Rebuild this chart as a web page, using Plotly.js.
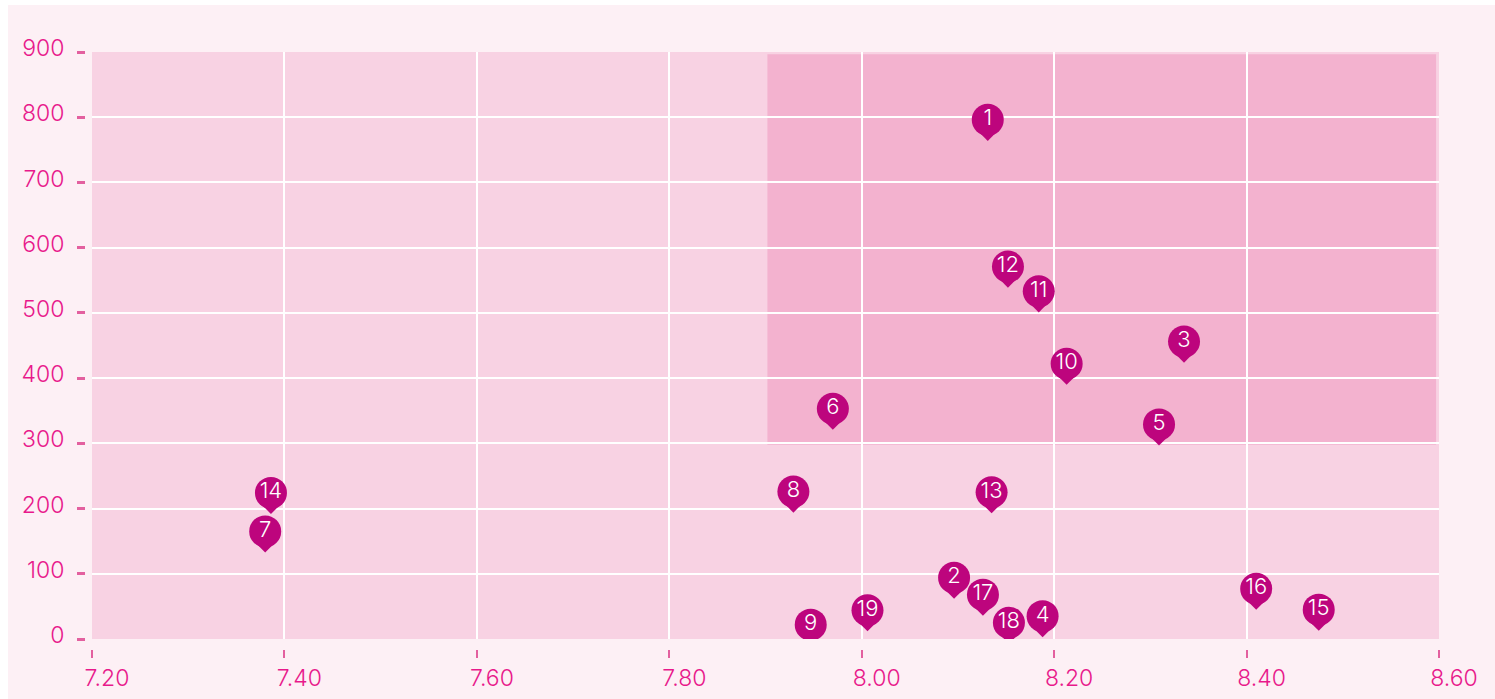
<!DOCTYPE html>
<html>
<head>
<meta charset="utf-8">
<script src="https://cdn.plot.ly/plotly-3.0.1.min.js"></script>
<style>
  html, body { margin: 0; padding: 0; background: #ffffff; overflow: hidden; }
  #chart { position: absolute; left: 8px; top: 5px; width: 1487px; height: 694px; }
</style>
</head>
<body>
<div id="chart"></div>
<script>
// ---- data ----
const pointLabels = ['1','2','3','4','5','6','7','8','9','10','11','12','13','14','15','16','17','18','19'];
const xValues = [8.131, 8.096, 8.335, 8.188, 8.309, 7.970, 7.380, 7.929, 7.947, 8.213,
                 8.184, 8.152, 8.135, 7.386, 8.475, 8.410, 8.126, 8.153, 8.006];
const yValues = [796, 94, 456, 35, 329, 353, 165, 226, 22, 422,
                 533, 571, 225, 224, 45, 77, 68, 25, 44];
const xTickVals = [7.2, 7.4, 7.6, 7.8, 8.0, 8.2, 8.4, 8.6];
const xTickText = ['7.20', '7.40', '7.60', '7.80', '8.00', '8.20', '8.40', '8.60'];
const yTickVals = [0, 100, 200, 300, 400, 500, 600, 700, 800, 900];
const highlightX = [7.902, 8.597];
const highlightY = [298, 896.5];

// ---- style ----
const pinColor = '#bd057d';
const tickColor = '#e8198b';
const fontFamily = 'Inter, "Noto Sans", sans-serif';

const tail = {
  type: 'scatter', mode: 'markers',
  x: xValues, y: yValues,
  hoverinfo: 'skip',
  marker: { symbol: 'diamond', size: 17, color: pinColor, standoff: 10, line: { width: 0 } },
  showlegend: false
};
const head = {
  type: 'scatter', mode: 'markers+text',
  x: xValues, y: yValues, text: pointLabels,
  textposition: 'middle center',
  textfont: { family: fontFamily, size: 22, color: '#ffffff', weight: 300 },
  marker: { symbol: 'circle', size: 32, color: pinColor, line: { width: 0 } },
  showlegend: false
};

const W = 1487, H = 694;
const mL = 77, mR = 56, mT = 47, mB = 50;
const paperW = W - mL - mR, paperH = H - mT - mB;

const layout = {
  width: W, height: H,
  margin: { l: mL, r: mR, t: mT, b: mB, pad: 0 },
  paper_bgcolor: '#fdf0f5',
  plot_bgcolor: '#f8d2e3',
  font: { family: fontFamily, color: tickColor, weight: 300 },
  xaxis: {
    domain: [7 / paperW, 1],
    range: [7.2, 8.6],
    anchor: 'free', position: 0,
    tickmode: 'array', tickvals: xTickVals, ticktext: xTickText,
    ticks: 'outside', ticklen: 8, tickwidth: 2, tickcolor: '#e3609f',
    tickfont: { family: fontFamily, size: 23, color: tickColor, weight: 300 },
    ticklabelshift: 15,
    ticklabelstandoff: 0,
    showgrid: true, gridcolor: '#ffffff', gridwidth: 2,
    zeroline: false, showline: false, fixedrange: true
  },
  yaxis: {
    domain: [10 / paperH, 1],
    range: [0, 900],
    anchor: 'free', position: 0,
    tickmode: 'array', tickvals: yTickVals,
    ticks: 'outside', ticklen: 8, tickwidth: 3, tickcolor: '#e3609f',
    tickfont: { family: fontFamily, size: 23, color: tickColor, weight: 300 },
    ticklabelshift: -4,
    ticklabelstandoff: 8,
    showgrid: true, gridcolor: '#ffffff', gridwidth: 2,
    zeroline: false, showline: false, fixedrange: true
  },
  shapes: [{
    type: 'rect', layer: 'below', xref: 'x', yref: 'y',
    x0: highlightX[0], x1: highlightX[1], y0: highlightY[0], y1: highlightY[1],
    fillcolor: '#f3b2cf', line: { width: 0 }
  }],
  showlegend: false
};

Plotly.newPlot('chart', [tail, head], layout, { displayModeBar: false, staticPlot: true });
</script>
</body>
</html>
